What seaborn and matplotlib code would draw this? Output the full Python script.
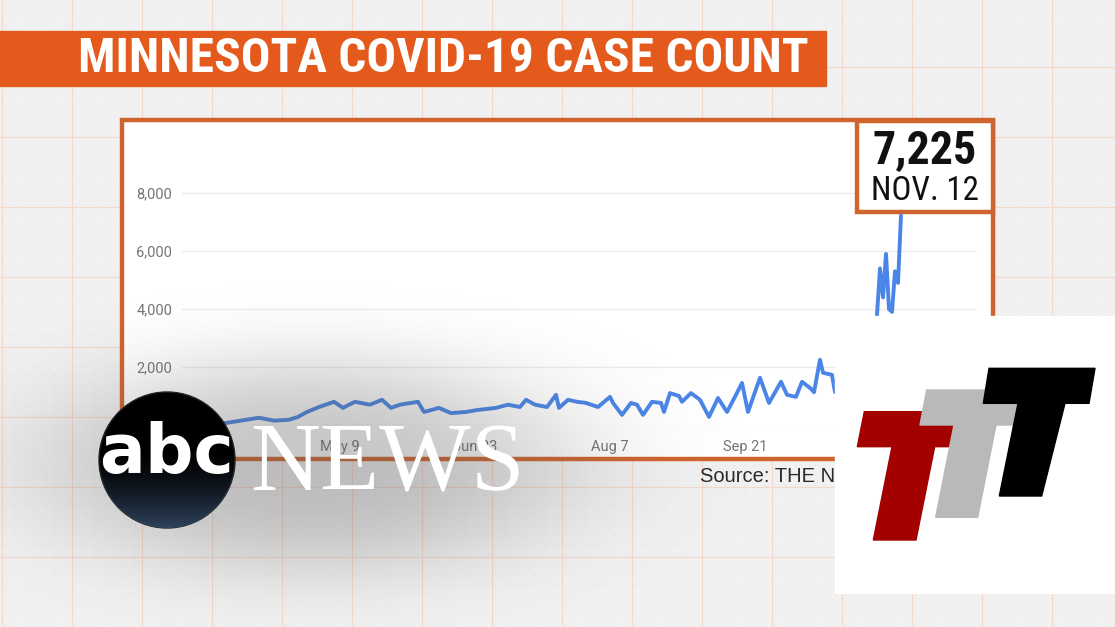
import matplotlib
matplotlib.use("Agg")
import matplotlib.pyplot as plt
from matplotlib.patches import Rectangle, Polygon, Circle
from matplotlib.ticker import FuncFormatter
import numpy as np
import pandas as pd
import seaborn as sns

# --- data (daily new cases, Minnesota) ---
case_dates = [
    "2020-03-18", "2020-04-01", "2020-04-12", "2020-04-17", "2020-04-22", "2020-04-25",
    "2020-04-28", "2020-05-02", "2020-05-07", "2020-05-10", "2020-05-12", "2020-05-14",
    "2020-05-19", "2020-05-23", "2020-05-26", "2020-05-29", "2020-06-04", "2020-06-06",
    "2020-06-11", "2020-06-15", "2020-06-20", "2020-06-24", "2020-06-30", "2020-07-04",
    "2020-07-08", "2020-07-10", "2020-07-13", "2020-07-17", "2020-07-20", "2020-07-21",
    "2020-07-24", "2020-07-27", "2020-07-30", "2020-08-03", "2020-08-07", "2020-08-08",
    "2020-08-11", "2020-08-14", "2020-08-16", "2020-08-18", "2020-08-21", "2020-08-24",
    "2020-08-25", "2020-08-27", "2020-08-30", "2020-08-31", "2020-09-03", "2020-09-06",
    "2020-09-09", "2020-09-12", "2020-09-15", "2020-09-18", "2020-09-20", "2020-09-22",
    "2020-09-26", "2020-09-29", "2020-10-03", "2020-10-05", "2020-10-08", "2020-10-10",
    "2020-10-13", "2020-10-14", "2020-10-16", "2020-10-17", "2020-10-20", "2020-10-21",
    "2020-10-24", "2020-10-27", "2020-10-29", "2020-11-01", "2020-11-03", "2020-11-04",
    "2020-11-05", "2020-11-06", "2020-11-07", "2020-11-08", "2020-11-09", "2020-11-10",
    "2020-11-11", "2020-11-12",
]
case_counts = [
    20, 70, 250, 150, 180, 280,
    450, 620, 800, 590, 700, 800,
    700, 870, 590, 700, 800, 450,
    590, 410, 450, 520, 590, 700,
    620, 870, 700, 620, 1040, 590,
    870, 800, 760, 620, 970, 760,
    350, 760, 700, 350, 800, 760,
    450, 1100, 1000, 800, 1100, 870,
    280, 930, 450, 1040, 1450, 450,
    1630, 760, 1490, 1040, 970, 1490,
    1250, 1130, 2250, 1800, 1730, 1130,
    1900, 2400, 1600, 3100, 2900, 3800,
    5400, 4400, 5900, 4000, 3900, 5300,
    4900, 7225,
]
y_ticks = [0, 2000, 4000, 6000, 8000]
x_tick_dates = ["2020-05-09", "2020-06-23", "2020-08-07", "2020-09-21"]
x_tick_labels = ["May 9", "Jun 23", "Aug 7", "Sep 21"]
x_range = ["2020-03-17 08:00", "2020-12-07 08:00"]

title = "MINNESOTA COVID-19 CASE COUNT"
callout_value = "7,225"
callout_date = "NOV. 12"
source_note = "Source: THE NEW YORK TIMES"

W, H = 1115, 627
ORANGE = "#e4591c"
BORDER = "#d0642e"
LINE_BLUE = "#4a86e8"

sns.set_style("white")
plt.rcParams["font.family"] = ["Roboto", "DejaVu Sans"]
COND = ["Liberation Sans Narrow", "Roboto Condensed", "Liberation Sans", "DejaVu Sans"]

fig = plt.figure(figsize=(W / 100, H / 100), dpi=100)
fig.patch.set_facecolor("#f1f1f1")


def pixel_axes(z):
    # full-figure axes in image pixel coordinates (y grows downward)
    a = fig.add_axes([0, 0, 1, 1], zorder=z)
    a.set_xlim(0, W)
    a.set_ylim(H, 0)
    a.axis("off")
    a.patch.set_alpha(0)
    return a


def fit_width(t, width_px):
    r = fig.canvas.get_renderer()
    w = t.get_window_extent(r).width
    t.set_fontsize(t.get_fontsize() * width_px / w)


# --- background grid paper, banner, chart frame ---
bg = pixel_axes(0)
for gx in np.arange(2, W, 70):
    bg.plot([gx, gx], [0, H], color="#f3d9ca", lw=0.8, zorder=0)
for gy in np.arange(-3, H, 70):
    bg.plot([0, W], [gy, gy], color="#f3d9ca", lw=0.8, zorder=0)
# faint dotted texture
dx, dy = np.meshgrid(np.arange(5, W, 10), np.arange(5, H, 10))
bg.scatter(dx.ravel(), dy.ravel(), s=0.6, color="#dcdcdc", lw=0, zorder=0)

bg.add_patch(Rectangle((0, 31), 826, 55, color=ORANGE, zorder=2))
t_title = bg.text(78, 59, title, color="white", fontweight="bold", family=COND,
                  fontsize=30, ha="left", va="center", zorder=3)
bg.add_patch(Rectangle((122, 120), 871, 339, facecolor="white", edgecolor=BORDER, lw=3.2, zorder=2))
bg.text(700, 477, source_note, color="#2b2b2b", fontsize=14.5, family=["Liberation Sans", "DejaVu Sans"],
        ha="left", va="center", zorder=3)

# --- the data chart ---
ax = fig.add_axes([182 / W, 1 - 425 / H, (977 - 182) / W, (425 - 164) / H], zorder=1)
ax.patch.set_alpha(0)
sns.lineplot(x=pd.to_datetime(case_dates), y=case_counts, ax=ax, color=LINE_BLUE, linewidth=2.8)
ax.set_xlim(pd.Timestamp(x_range[0]), pd.Timestamp(x_range[1]))
ax.set_ylim(0, 9000)
ax.set_yticks(y_ticks)
ax.yaxis.set_major_formatter(FuncFormatter(lambda v, _: f"{int(v):,}" if v > 0 else ""))
ax.set_xticks(pd.to_datetime(x_tick_dates))
ax.set_xticklabels(x_tick_labels)
ax.grid(axis="y", color="#ececec", lw=1)
ax.set_axisbelow(True)
for s in ax.spines.values():
    s.set_visible(False)
ax.tick_params(axis="y", length=0, pad=7, labelsize=10.5, labelcolor="#757575")
ax.tick_params(axis="x", length=5, color="#dddddd", pad=6, labelsize=10.5, labelcolor="#757575")
ax.set_xlabel("")
ax.set_ylabel("")

# --- overlays: callout, logos ---
ov = pixel_axes(2)
ov.add_patch(Rectangle((857, 121), 136, 91, facecolor="white", edgecolor=BORDER, lw=3.2))
t_val = ov.text(925, 150, callout_value, fontweight="bold", family=COND, fontsize=26,
                ha="center", va="center", color="#111111")
t_day = ov.text(925, 191, callout_date, family=COND, fontsize=22,
                ha="center", va="center", color="#111111")

# soft grey shadow behind the abc news bug
gx, gy = np.meshgrid(np.linspace(-60, 780, 420), np.linspace(240, 627, 200))
d = ((gx - 310) / 270) ** 2 + ((gy - 465) / 110) ** 2
shade = np.zeros(gx.shape + (4,))
shade[..., :3] = 0.35
shade[..., 3] = 0.34 * np.exp(-d ** 1.5)
ov.imshow(shade, extent=(-60, 780, 627, 240), aspect="auto", interpolation="bilinear", zorder=1)

disc = Circle((167, 460), 68, facecolor="black", edgecolor="#222222", lw=1, zorder=2)
ov.add_patch(disc)
cx, cy = np.meshgrid(np.linspace(99, 235, 100), np.linspace(392, 528, 100))
glow = np.zeros(cx.shape + (4,))
glow[..., 0], glow[..., 1], glow[..., 2] = 0.25, 0.36, 0.50
glow[..., 3] = np.clip((cy - 445) / 85, 0, 1) ** 1.6 * 0.75
im = ov.imshow(glow, extent=(99, 235, 528, 392), aspect="auto", zorder=3)
im.set_clip_path(disc)
t_abc = ov.text(167, 473, "abc", color="white", fontweight="bold", family=["DejaVu Sans"],
                fontsize=46, ha="center", va="baseline", zorder=4)
t_news = ov.text(250, 490, "NEWS", color="white", family=["Liberation Serif", "DejaVu Serif"],
                 fontsize=70, ha="left", va="baseline", zorder=4)

# TTT bug
ov.add_patch(Rectangle((835, 316), 280, 277, color="white", zorder=5))


def bug(pts, colour):
    ov.add_patch(Polygon([(835 + px / 3, 310 + py / 3) for px, py in pts], closed=True,
                         color=colour, zorder=6))


bug([(88, 305), (370, 305), (350, 410), (299, 410), (243, 690), (115, 690), (171, 410), (67, 410)], "#a30000")
bug([(275, 240), (555, 240), (535, 345), (483, 345), (428, 622), (302, 622), (357, 345), (255, 345)], "#b9b9b9")
bug([(462, 175), (780, 175), (762, 280), (690, 280), (620, 558), (493, 558), (549, 280), (445, 280)], "#000000")

ov.set_xlim(0, W)
ov.set_ylim(H, 0)

fig.canvas.draw()
fit_width(t_title, 730)
fit_width(t_val, 105)
fit_width(t_day, 108)
fit_width(t_abc, 135)
fit_width(t_news, 275)

fig.savefig("out.png", dpi=100, facecolor=fig.get_facecolor())
